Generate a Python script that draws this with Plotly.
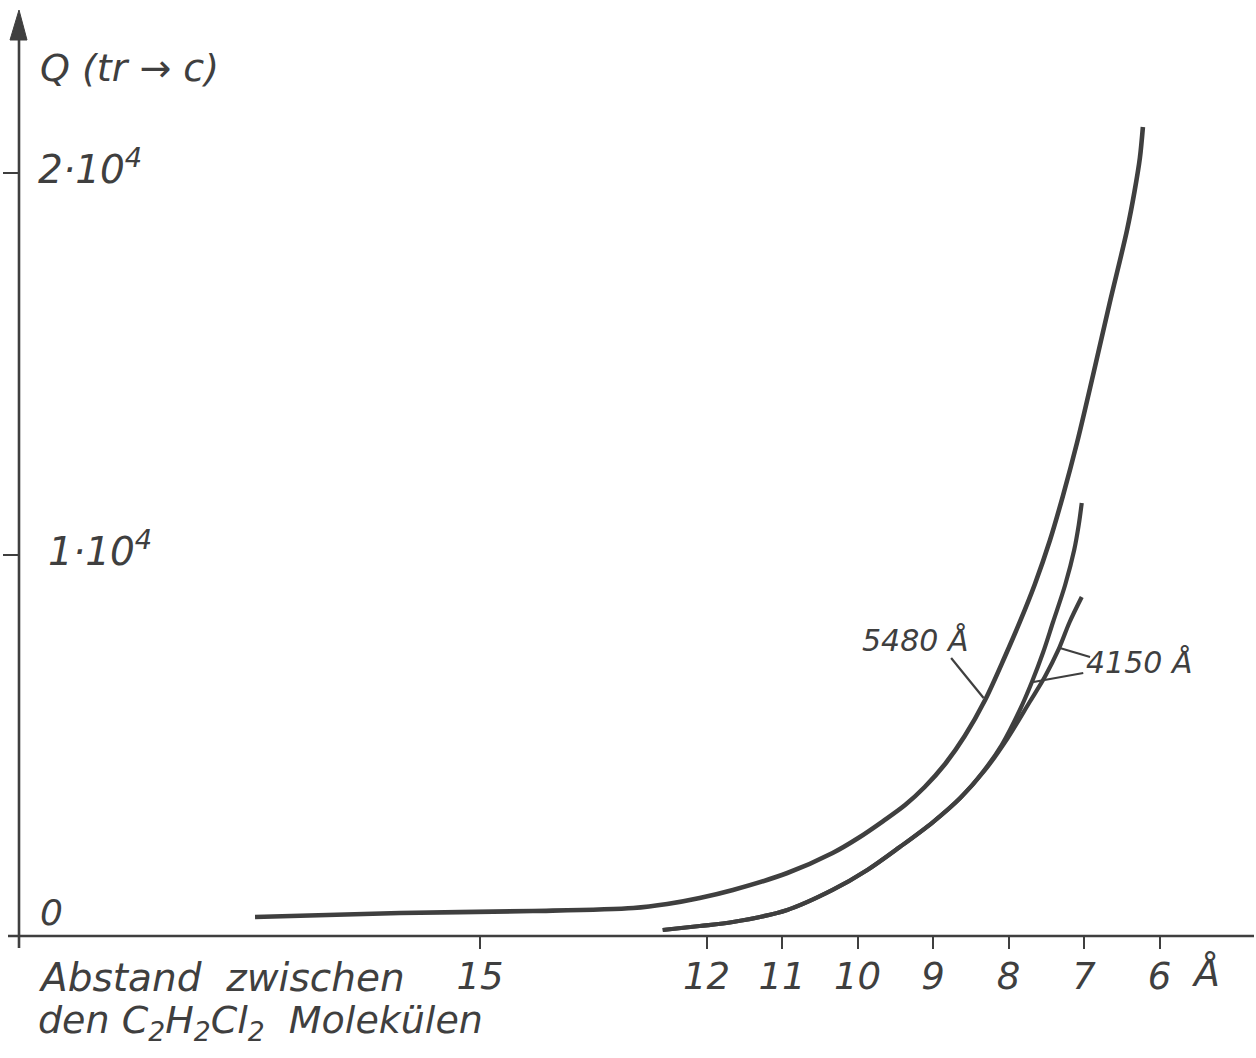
import plotly.graph_objects as go

# ---------------- data ----------------
x_tick_vals = [15, 12, 11, 10, 9, 8, 7, 6]
x_tick_text = ["15", "12", "11", "10", "9", "8", "7", "6"]
y_tick_vals = [10000, 20000]

dist_5480 = [17.98, 16.06, 14.30, 12.97, 12.52, 12.09, 11.65, 10.93, 10.33, 9.99, 9.66,
             9.37, 9.11, 8.84, 8.58, 8.31, 8.05, 7.85, 7.65, 7.45, 7.28, 7.09,
             6.88, 6.66, 6.43, 6.33, 6.26, 6.22]
q_5480 = [500, 603, 655, 734, 839, 996, 1206, 1651, 2176, 2569, 3014,
          3434, 3906, 4508, 5242, 6186, 7313, 8231, 9227, 10380, 11533, 12949,
          14705, 16592, 18506, 19528, 20393, 21206]

dist_4150a = [12.58, 12.09, 11.65, 10.93, 10.33, 9.87, 9.44, 9.00, 8.64, 8.34,
              8.09, 7.85, 7.69, 7.54, 7.41, 7.25, 7.13, 7.07, 7.03]
q_4150a = [157, 262, 367, 682, 1206, 1730, 2333, 2988, 3617, 4299,
           5006, 5924, 6658, 7444, 8231, 9200, 10118, 10773, 11350]

dist_4150b = [12.58, 12.09, 11.65, 10.93, 10.33, 9.87, 9.44, 9.00, 8.64, 8.31,
              8.01, 7.72, 7.52, 7.34, 7.19, 7.03]
q_4150b = [157, 262, 367, 682, 1206, 1730, 2333, 2988, 3617, 4351,
           5190, 6134, 6789, 7497, 8231, 8886]

# leader lines for the labels: (d0, q0, d1, q1)
leader_5480 = [8.76, 7287, 8.33, 6240]
leader_4150_top = [7.32, 7549, 6.92, 7313]
leader_4150_bot = [7.67, 6658, 7.01, 6894]

INK = "#3f3f3f"
FONT = "DejaVu Sans"

fig = go.Figure()
for d, q, w in [(dist_5480, q_5480, 4.6), (dist_4150a, q_4150a, 4.2), (dist_4150b, q_4150b, 4.2)]:
    fig.add_trace(go.Scatter(x=d, y=q, mode="lines",
                             line=dict(color=INK, width=w, shape="spline", smoothing=0.9),
                             hoverinfo="skip", showlegend=False))

shapes = []
for ld in (leader_5480, leader_4150_top, leader_4150_bot):
    shapes.append(dict(type="line", xref="x", yref="y", x0=ld[0], y0=ld[1], x1=ld[2], y1=ld[3],
                       line=dict(color=INK, width=2.2)))

# axis lines (drawn in paper units so they can run past the plot area)
W, H = 1237.0, 936.0
shapes.append(dict(type="line", xref="paper", yref="paper",
                   x0=(8 - 19) / W, x1=(1254 - 19) / W, y0=0, y1=0,
                   line=dict(color=INK, width=2.6)))
shapes.append(dict(type="line", xref="paper", yref="paper",
                   x0=0, x1=0, y0=(936 - 948) / H, y1=(936 - 32) / H,
                   line=dict(color=INK, width=2.6)))
# arrow head on y axis
tip = (936 - 10) / H
base = (936 - 40) / H
shapes.append(dict(type="path", xref="paper", yref="paper",
                   path=f"M {-9 / W},{base} L {0},{tip} L {8 / W},{base} Z",
                   fillcolor=INK, line=dict(color=INK, width=1)))

fs = dict(family=FONT, color=INK, style="italic")

annotations = [
    dict(text="Q (tr → c)", xref="paper", yref="paper", x=(38 - 19) / W, y=(936 - 68) / H,
         xanchor="left", yanchor="middle", showarrow=False, font=dict(size=38, **fs)),
    dict(text="2·10<sup>4</sup>", xref="paper", yref="y", x=(36 - 19) / W, y=20000,
         xanchor="left", yanchor="middle", showarrow=False, font=dict(size=39, **fs), yshift=6),
    dict(text="1·10<sup>4</sup>", xref="paper", yref="y", x=(46 - 19) / W, y=10000,
         xanchor="left", yanchor="middle", showarrow=False, font=dict(size=39, **fs), yshift=6),
    dict(text="0", xref="paper", yref="y", x=(38 - 19) / W, y=0,
         xanchor="left", yanchor="middle", showarrow=False, font=dict(size=36, **fs), yshift=24),
    dict(text="5480 Å", xref="x", yref="y", x=9.24, y=7759,
         xanchor="center", yanchor="middle", showarrow=False, font=dict(size=30, **fs)),
    dict(text="4150 Å", xref="x", yref="y", x=6.27, y=7182,
         xanchor="center", yanchor="middle", showarrow=False, font=dict(size=30, **fs)),
    dict(text="Å", xref="x", yref="paper", x=5.39, y=(936 - 973) / H,
         xanchor="center", yanchor="middle", showarrow=False, font=dict(size=38, **fs)),
    dict(text="Abstand  zwischen", xref="paper", yref="paper", x=(36 - 19) / W, y=(936 - 977) / H,
         xanchor="left", yanchor="middle", showarrow=False, font=dict(size=39, **fs)),
    dict(text="den C<sub>2</sub>H<sub>2</sub>Cl<sub>2</sub>  Molekülen", xref="paper", yref="paper",
         x=(36 - 19) / W, y=(936 - 1022) / H,
         xanchor="left", yanchor="middle", showarrow=False, font=dict(size=38, **fs)),
]

fig.update_layout(
    width=1256, height=1058,
    margin=dict(l=19, r=0, t=0, b=122),
    paper_bgcolor="white", plot_bgcolor="white",
    shapes=shapes, annotations=annotations,
    showlegend=False,
    xaxis=dict(range=[21.106, 4.722], tickvals=x_tick_vals, ticktext=x_tick_text,
               ticks="outside", ticklen=12, tickwidth=2.4, tickcolor=INK,
               tickfont=dict(size=37, **fs), showgrid=False, zeroline=False, showline=False,
               ticklabelstandoff=-4),
    yaxis=dict(range=[0, 24535], tickvals=y_tick_vals, showticklabels=False,
               ticks="outside", ticklen=15, tickwidth=2.4, tickcolor=INK,
               showgrid=False, zeroline=False, showline=False),
)

fig.write_html("out.html")
